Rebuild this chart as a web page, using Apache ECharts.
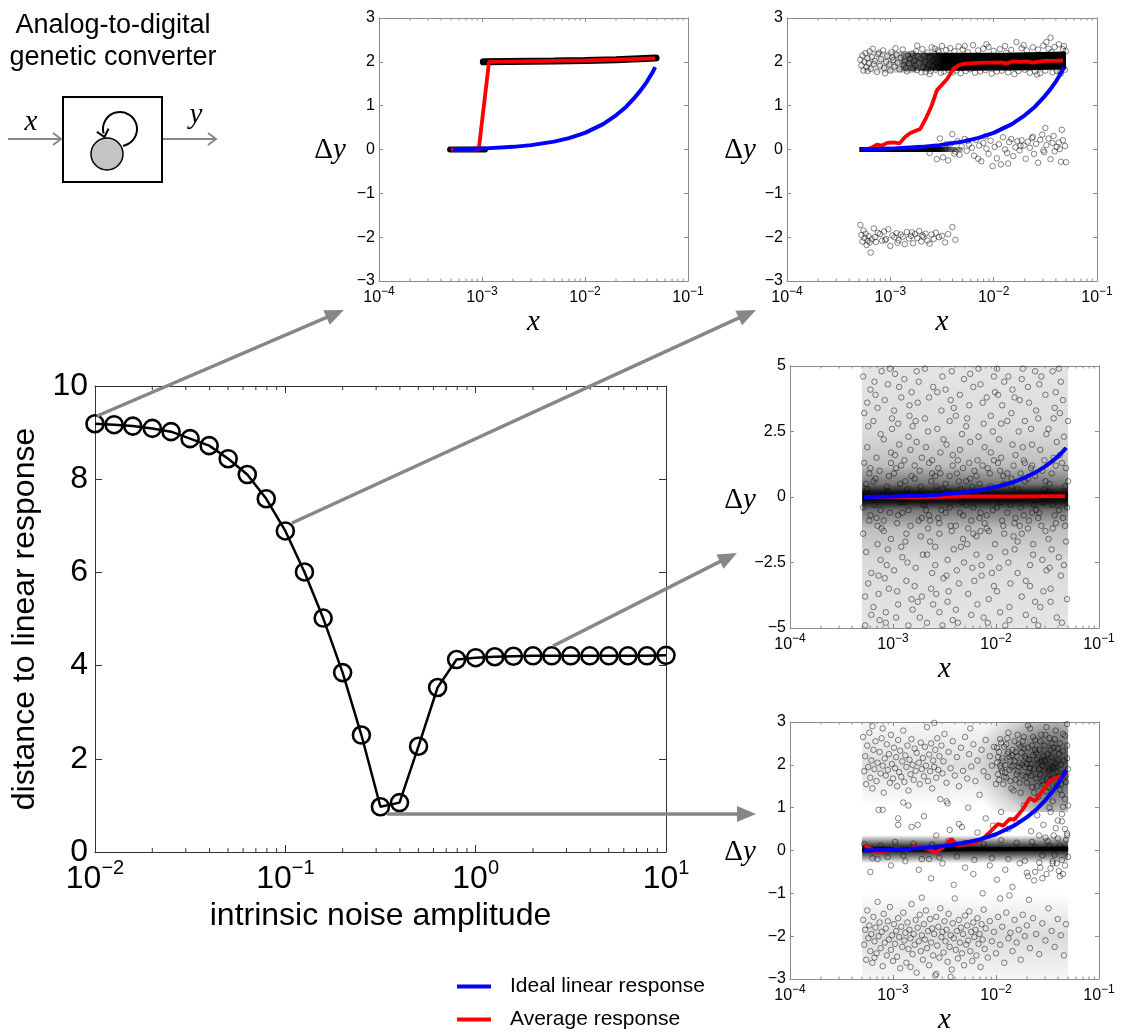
<!DOCTYPE html>
<html><head><meta charset="utf-8">
<script src="https://cdn.jsdelivr.net/npm/echarts@6/dist/echarts.min.js"></script>
<style>html,body{margin:0;padding:0;background:#fff}#c{width:1121px;height:1036px}</style>
</head><body><div id="c"></div>
<script>
// ---------------- DATA ----------------
// main plot: distance to linear response vs intrinsic noise amplitude
const noiseAmplitude = [0.01,0.0126,0.0158,0.02,0.0251,0.0316,0.0398,0.0501,0.0631,0.0794,0.1,0.126,0.158,0.2,0.251,0.316,0.398,0.501,0.631,0.794,1,1.26,1.58,2,2.51,3.16,3.98,5.01,6.31,7.94,10];
const distanceToLinear = [9.19,9.17,9.14,9.09,9.02,8.87,8.72,8.44,8.10,7.58,6.89,6.01,5.02,3.85,2.51,0.97,1.06,2.27,3.53,4.13,4.17,4.19,4.20,4.21,4.21,4.21,4.21,4.21,4.21,4.21,4.22];

// ideal linear response (same in the four panels)
const idealX = [5.2e-4,1e-3,2e-3,3e-3,5e-3,7e-3,1e-2,1.5e-2,2e-2,2.5e-2,3e-2,3.5e-2,4e-2,4.5e-2,4.8e-2];
const idealY = [0.00,0.02,0.06,0.10,0.18,0.26,0.38,0.58,0.78,0.97,1.17,1.36,1.55,1.75,1.88];

// minor tick positions (multiples inside each decade)
const minorMult = [2,3,4,5,6,7,8,9];

// panel A (low noise)
const avgA_x = [5.0e-4,9.3e-4,1.17e-3,5e-3,1e-2,2e-2,4.8e-2];
const avgA_y = [0,0,2.0,2.02,2.03,2.05,2.08];
const simA_lowX = [4.9e-4,1.07e-3];
const simA_lowY = [0,0];
const simA_highX = [1.03e-3,5e-3,1e-2,2e-2,4.9e-2];
const simA_highY = [2.0,2.02,2.03,2.05,2.09];

// panel B (x given as log10 x)
const avgB_lx = [-3.26,-3.18,-3.13,-3.08,-3.03,-2.97,-2.91,-2.86,-2.81,-2.76,-2.71,-2.65,-2.60,-2.55,-2.50,-2.45,-2.39,-2.33,-2.27,-2.2,-2.1,-2.0,-1.93,-1.87,-1.82,-1.75,-1.68,-1.62,-1.55,-1.49,-1.42,-1.33];
const avgB_y = [0.0,0.04,0.11,0.09,0.15,0.16,0.14,0.28,0.37,0.42,0.47,0.74,1.0,1.35,1.48,1.61,1.84,1.93,1.96,1.97,1.98,1.98,1.99,1.96,2.01,2.0,2.01,1.98,2.01,2.02,2.02,2.03];
const denseB_band_lx = [-2.9,-2.6,-2.3,-1.8,-1.3];
const denseB_band_y = [2.0,2.0,2.0,2.01,2.03];
const denseB_zero_lx = [-3.3,-2.3];
const denseB_zero_y = [0,0];
// shaded density regions [lx1, lx2, y1, y2]
const shadeB = [[-3.3,-2.75,1.75,2.25]];
const simB = [
-3.29,2.05,-3.28,1.92,-3.27,2.14,-3.26,1.80,-3.25,2.00,-3.24,2.20,-3.23,1.88,-3.22,2.08,-3.21,1.97,-3.20,2.24,-3.19,1.84,-3.18,2.11,-3.16,1.95,-3.15,2.02,-3.13,1.77,-3.12,2.18,-3.10,1.91,-3.09,2.06,-3.07,2.26,-3.06,1.86,-3.04,2.00,-3.03,2.13,-3.01,1.94,-3.00,1.80,-2.99,2.22,-2.97,2.04,-2.96,1.89,-2.94,2.16,-2.93,1.98,-2.91,1.83,-2.90,2.09,-2.88,2.28,-2.87,1.93,-2.86,2.01,-2.84,1.78,-2.83,2.15,-2.82,1.96,-2.81,2.07,-3.17,2.30,-3.05,1.74,-2.95,2.31,-2.85,1.86,-3.22,1.79,-3.11,2.21,-2.98,2.10,
-2.79,2.19,-2.78,1.85,-2.77,2.03,-2.76,1.91,-2.75,2.24,-2.74,1.81,-2.73,2.12,-2.72,1.97,-2.71,2.07,-2.70,1.76,-2.69,2.29,-2.68,1.88,-2.67,2.15,-2.66,2.00,-2.65,1.84,-2.64,2.21,-2.63,1.93,-2.62,2.10,-2.61,1.79,-2.60,2.33,-2.59,1.90,-2.58,2.05,-2.57,2.18,-2.56,1.82,-2.55,1.99,-2.54,2.26,-2.53,1.87,-2.52,2.13,-2.51,1.75,-2.50,2.36,-2.74,2.37,-2.62,1.72,-2.57,2.30,-2.66,1.77,-2.53,2.22,
-2.48,1.78,-2.46,2.27,-2.44,1.82,-2.42,2.31,-2.40,1.76,-2.38,2.24,-2.36,1.80,-2.34,2.35,-2.32,1.74,-2.30,2.28,-2.27,1.79,-2.25,2.22,-2.23,1.83,-2.20,2.38,-2.18,1.75,-2.15,2.26,-2.13,1.78,-2.10,2.30,-2.08,1.81,-2.05,2.34,-2.02,1.73,-2.00,2.25,-1.97,1.78,-1.94,2.29,-1.92,1.80,-1.89,2.36,-1.86,1.76,-1.83,2.27,-1.80,1.72,-1.78,2.45,-1.76,1.79,-1.73,2.31,-1.70,1.82,-1.68,2.26,-1.65,1.75,-1.62,2.33,-1.60,1.78,-1.57,2.28,-1.55,1.74,-1.52,2.37,-1.50,1.80,-1.47,2.30,-1.45,2.55,-1.43,1.76,-1.41,2.34,-1.39,1.79,-1.37,2.40,-1.35,1.73,-1.33,2.29,-1.31,1.82,-1.30,2.24,-1.32,2.36,-1.36,1.77,-1.44,2.22,-1.58,1.71,-1.71,2.38,-1.88,2.21,-2.07,2.40,-2.28,2.36,-1.49,2.45,
-2.62,-0.08,-2.58,0.06,-2.55,-0.22,-2.52,0.25,-2.49,-0.18,-2.47,0.03,-2.44,-0.25,-2.42,0.13,-2.40,0.35,-2.37,-0.05,-2.35,0.19,-2.33,-0.12,-2.31,0.07,-2.28,0.24,-2.26,-0.03,-2.24,0.11,-2.21,0.04,-2.19,-0.14,-2.17,0.22,-2.14,0.09,-2.12,-0.27,-2.10,0.15,-2.07,0.02,-2.05,-0.10,-2.03,0.20,-2.01,-0.38,-1.99,0.06,-1.97,-0.20,-1.95,0.12,-1.93,-0.34,-1.91,0.28,-1.89,0.00,-1.87,-0.08,-1.85,0.17,-1.83,0.24,-1.81,-0.15,-1.79,0.05,-1.77,0.19,-1.75,-0.02,-1.73,0.21,-1.71,0.09,-1.69,-0.21,-1.67,0.18,-1.65,0.04,-1.63,0.26,-1.61,-0.10,-1.59,0.13,-1.57,-0.30,-1.55,0.22,-1.53,0.34,-1.51,-0.06,-1.49,0.10,-1.47,0.25,-1.45,-0.22,-1.43,0.15,-1.41,-0.04,-1.39,0.06,-1.37,0.16,-1.35,-0.28,-1.33,0.21,-1.31,0.08,-1.30,-0.29,-1.34,0.45,-1.42,0.31,-1.50,0.49,-1.62,0.29,-1.74,0.08,-1.86,-0.32,-2.08,0.30,-2.15,-0.21,-2.25,0.20,-2.38,-0.10,-2.46,0.12,-2.53,0.01,-1.36,0.01,-1.52,-0.02,
-3.29,-1.72,-3.28,-1.95,-3.27,-2.10,-3.26,-1.85,-3.25,-2.02,-3.24,-1.92,-3.23,-2.18,-3.22,-2.08,-3.21,-1.98,-3.20,-2.12,-3.19,-2.35,-3.18,-2.05,-3.16,-1.80,-3.14,-2.11,-3.12,-1.90,-3.10,-1.93,-3.08,-2.08,-3.06,-1.87,-3.04,-2.04,-3.02,-1.82,-3.00,-2.20,-2.98,-1.96,-2.96,-2.00,-2.94,-1.91,-2.92,-2.07,-2.90,-1.94,-2.88,-1.99,-2.86,-2.16,-2.84,-1.88,-2.82,-2.03,-2.80,-1.97,-2.78,-2.14,-2.76,-1.93,-2.74,-2.02,-2.72,-1.86,-2.70,-2.10,-2.68,-1.99,-2.66,-1.92,-2.64,-2.08,-2.62,-2.15,-2.60,-1.94,-2.58,-2.04,-2.56,-1.90,-2.53,-2.00,-2.50,-1.97,-2.47,-2.12,-2.44,-1.93,-2.40,-1.77,-2.37,-2.06,-2.93,-2.13,-3.05,-2.07,-2.79,-1.89,-2.69,-1.96,-3.15,-2.00
];

// panel C
const avgC_lx = [-3.28,-2.8,-2.3,-1.8,-1.33];
const avgC_y = [0,0.0,0.02,0.02,0.03];
const shadeC = [[-3.3,-1.3,-5,5]];
const simC = [
-3.29,4.6,-3.27,-3.8,-3.25,1.9,-3.22,-0.7,-3.28,3.2,-3.21,-4.5,-3.24,2.7,-3.26,-2.1,-3.23,0.9,-3.29,-1.4,-3.22,4.1,-3.27,-4.9,-3.25,3.6,-3.21,-2.9,-3.28,1.3,-3.24,-3.3,-3.26,0.5,-3.23,-0.9,-3.22,1.1,-3.29,-0.4,-3.25,0.3,
-3.19,-4.2,-3.17,3.9,-3.15,-1.8,-3.12,2.4,-3.18,-0.3,-3.11,4.8,-3.14,-3.0,-3.16,1.5,-3.13,-4.7,-3.19,2.9,-3.12,-2.4,-3.17,0.7,-3.15,3.4,-3.11,-1.2,-3.18,4.4,-3.14,-3.7,-3.16,-0.8,-3.13,1.0,-3.12,-0.5,-3.19,0.6,-3.15,-1.1,
-3.09,2.2,-3.07,-4.4,-3.05,4.3,-3.02,-1.6,-3.08,-3.1,-3.01,3.0,-3.04,0.8,-3.06,-2.6,-3.03,4.9,-3.09,-0.9,-3.02,1.7,-3.07,-4.8,-3.05,-2.0,-3.01,2.6,-3.08,3.7,-3.04,-3.5,-3.06,0.4,-3.03,-0.6,-3.02,1.3,-3.09,-1.3,-3.05,0.2,
-2.99,-2.8,-2.97,1.1,-2.95,-4.1,-2.92,3.8,-2.98,4.7,-2.91,-0.6,-2.94,2.0,-2.96,-3.6,-2.93,0.5,-2.99,3.3,-2.92,-1.9,-2.97,-4.6,-2.95,2.8,-2.91,-2.3,-2.98,1.6,-2.94,4.2,-2.96,-1.0,-2.93,-0.2,-2.92,1.2,-2.99,0.9,-2.95,-0.7,
-2.89,4.5,-2.87,-1.4,-2.85,2.3,-2.82,-3.9,-2.88,0.6,-2.81,-4.3,-2.84,3.5,-2.86,-2.5,-2.83,1.8,-2.89,-0.2,-2.82,4.0,-2.87,-3.2,-2.85,-4.9,-2.81,2.7,-2.88,-1.7,-2.84,3.1,-2.86,0.3,-2.83,-1.1,-2.82,0.8,-2.89,1.4,-2.85,-0.5,
-2.79,-3.4,-2.77,4.8,-2.75,-0.9,-2.72,1.5,-2.78,2.9,-2.71,-2.2,-2.74,-4.6,-2.76,3.6,-2.73,-1.5,-2.79,0.7,-2.72,-3.8,-2.77,2.1,-2.75,4.4,-2.71,-0.3,-2.78,-2.7,-2.74,1.0,-2.76,-4.0,-2.73,0.4,-2.72,-0.8,-2.79,1.2,-2.75,0.1,
-2.69,3.0,-2.67,-4.8,-2.65,1.3,-2.62,-2.9,-2.68,-0.5,-2.61,4.2,-2.64,-1.7,-2.66,2.5,-2.63,-3.5,-2.69,4.9,-2.62,0.9,-2.67,-2.2,-2.65,3.8,-2.61,-4.1,-2.68,1.9,-2.64,-0.9,-2.66,-1.2,-2.63,0.6,-2.62,1.4,-2.69,-0.3,-2.65,-0.7,
-2.59,-1.9,-2.57,2.6,-2.55,-4.4,-2.52,4.6,-2.58,0.4,-2.51,-3.1,-2.54,1.7,-2.56,-0.8,-2.53,3.3,-2.59,-2.6,-2.52,-4.9,-2.57,4.0,-2.55,-1.4,-2.51,2.2,-2.58,-3.7,-2.54,0.9,-2.56,1.1,-2.53,-0.5,-2.52,0.3,-2.59,0.8,-2.55,-1.0,
-2.49,4.1,-2.47,-2.4,-2.45,0.8,-2.42,-4.7,-2.48,2.0,-2.41,3.4,-2.44,-1.1,-2.46,-3.6,-2.43,4.8,-2.49,-0.6,-2.42,1.6,-2.47,-4.0,-2.45,2.9,-2.41,-2.0,-2.48,-3.0,-2.44,3.7,-2.46,0.2,-2.43,-1.3,-2.42,1.2,-2.49,0.5,-2.45,-0.4,
-2.39,-4.3,-2.37,1.4,-2.35,3.9,-2.32,-1.6,-2.38,-2.8,-2.31,4.5,-2.34,0.3,-2.36,-3.3,-2.33,2.4,-2.39,3.1,-2.32,-0.7,-2.37,-4.8,-2.35,1.8,-2.31,-2.5,-2.38,0.9,-2.34,-1.9,-2.36,0.6,-2.33,-0.2,-2.32,1.1,-2.39,-1.1,-2.35,-0.6,
-2.29,2.7,-2.27,-3.7,-2.25,4.7,-2.22,-0.4,-2.28,-1.8,-2.21,1.0,-2.24,-4.5,-2.26,3.5,-2.23,-2.7,-2.29,0.6,-2.22,4.2,-2.27,-1.2,-2.25,2.1,-2.21,-3.2,-2.28,3.0,-2.24,-0.9,-2.26,1.3,-2.23,0.4,-2.22,-1.4,-2.29,-0.3,-2.25,0.7,
-2.19,-2.2,-2.17,4.9,-2.15,-0.6,-2.12,2.8,-2.18,-4.1,-2.11,1.9,-2.14,-3.0,-2.16,0.5,-2.13,3.6,-2.19,-1.5,-2.12,-4.6,-2.17,2.3,-2.15,4.3,-2.11,-1.0,-2.18,1.4,-2.14,-2.6,-2.16,-0.8,-2.13,1.2,-2.12,-0.1,-2.19,0.8,-2.15,-1.3,
-2.09,3.8,-2.07,-1.3,-2.05,1.7,-2.02,-3.4,-2.08,-4.8,-2.01,4.0,-2.04,0.2,-2.06,-2.3,-2.03,2.5,-2.09,-0.7,-2.02,4.6,-2.07,-3.9,-2.05,3.1,-2.01,-1.8,-2.08,1.1,-2.04,-2.9,-2.06,0.9,-2.03,-0.5,-2.02,1.4,-2.09,-1.2,-2.05,0.4,
-1.99,-3.6,-1.97,2.2,-1.95,-0.2,-1.92,4.4,-1.98,1.3,-1.91,-2.1,-1.94,3.5,-1.96,-4.4,-1.93,0.8,-1.99,4.9,-1.92,-1.4,-1.97,-2.7,-1.95,2.8,-1.91,-4.9,-1.98,3.9,-1.94,-0.9,-1.96,1.0,-1.93,-1.1,-1.92,0.5,-1.99,-0.4,-1.95,1.5,
-1.89,0.9,-1.87,-4.2,-1.85,3.2,-1.82,-2.0,-1.88,4.6,-1.81,-0.8,-1.84,2.0,-1.86,-3.3,-1.83,-1.5,-1.89,2.9,-1.82,3.8,-1.87,-4.7,-1.85,0.4,-1.81,1.6,-1.88,-2.5,-1.84,4.1,-1.86,-0.3,-1.83,1.2,-1.82,-1.0,-1.89,-0.6,-1.85,0.7,
-1.79,-1.7,-1.77,3.7,-1.75,-3.8,-1.72,0.6,-1.78,2.5,-1.71,-4.5,-1.74,4.9,-1.76,-0.4,-1.73,1.4,-1.79,-2.9,-1.72,2.9,-1.77,-1.1,-1.75,4.5,-1.71,-3.2,-1.78,-0.1,-1.74,1.9,-1.76,0.9,-1.73,-0.7,-1.72,1.3,-1.79,0.3,-1.75,-1.4,
-1.69,4.2,-1.67,-2.6,-1.65,1.2,-1.62,-4.0,-1.68,-0.9,-1.61,3.3,-1.64,-1.8,-1.66,2.6,-1.63,-4.7,-1.69,0.7,-1.62,4.8,-1.67,-3.4,-1.65,2.0,-1.61,-0.5,-1.68,3.6,-1.64,-2.2,-1.66,1.1,-1.63,-0.3,-1.62,0.8,-1.69,-1.2,-1.65,-0.6,
-1.59,-4.9,-1.57,1.8,-1.55,-2.4,-1.52,3.9,-1.58,-0.6,-1.51,2.4,-1.54,-3.6,-1.56,4.6,-1.53,0.3,-1.59,3.0,-1.52,-1.3,-1.57,-4.2,-1.55,1.0,-1.51,-2.8,-1.58,4.3,-1.54,-0.2,-1.56,-1.1,-1.53,1.4,-1.52,0.6,-1.59,-0.8,-1.55,0.1,
-1.49,2.6,-1.47,-3.5,-1.45,4.8,-1.42,-1.0,-1.48,0.5,-1.41,-4.6,-1.44,1.5,-1.46,-2.0,-1.43,3.4,-1.49,-1.6,-1.42,4.0,-1.47,-4.0,-1.45,-0.3,-1.41,2.1,-1.48,-2.7,-1.44,3.0,-1.46,0.9,-1.43,-0.7,-1.42,1.2,-1.49,0.2,-1.45,-1.2,
-1.39,-2.3,-1.37,4.4,-1.35,-0.8,-1.32,1.1,-1.38,3.2,-1.31,-3.9,-1.34,2.3,-1.36,-4.8,-1.33,0.4,-1.39,4.9,-1.32,-1.7,-1.37,-3.0,-1.35,3.7,-1.31,-0.4,-1.38,1.6,-1.34,-2.6,-1.36,1.3,-1.33,-1.1,-1.30,0.6,-1.39,-0.5,-1.30,2.9
];

// panel D
const avgD_lx = [-3.27,-3.22,-3.16,-3.06,-2.96,-2.87,-2.77,-2.67,-2.58,-2.51,-2.43,-2.38,-2.29,-2.19,-2.11,-2.03,-1.98,-1.93,-1.87,-1.82,-1.74,-1.67,-1.62,-1.54,-1.48,-1.41,-1.35,-1.32];
const avgD_y = [0.12,0.04,-0.04,0.0,0.04,0.02,0.08,0.04,-0.04,0.08,0.27,0.12,0.15,0.19,0.31,0.5,0.62,0.58,0.73,0.73,0.96,1.23,1.15,1.42,1.62,1.69,1.73,1.80];
const denseD_zero_lx = [-3.3,-1.3];
const denseD_zero_y = [0.02,0.04];
const shadeD = [[-3.3,-1.3,1.0,3.0],[-3.3,-1.3,-3.0,-1.0],[-2.45,-1.3,0.9,3.0],[-3.3,-1.3,-0.3,0.36]];
const simD = [
-3.29,2.65,-3.28,1.85,-3.27,2.20,-3.26,1.55,-3.25,2.45,-3.24,1.95,-3.23,2.75,-3.22,1.70,-3.21,2.10,-3.20,1.45,-3.19,2.35,-3.18,1.90,-3.17,2.55,-3.16,1.62,-3.15,2.05,-3.14,0.95,-3.13,2.30,-3.12,1.80,-3.11,2.62,-3.10,1.98,-3.09,1.35,-3.08,2.15,-3.07,1.75,-3.06,2.48,-3.05,1.88,-3.04,2.25,-3.03,1.58,-3.02,2.70,-3.01,2.02,-3.00,1.68,-2.99,2.40,-2.98,1.92,-2.97,2.18,-2.96,1.50,-2.95,2.58,-2.94,1.83,-2.93,2.33,-2.92,1.72,-2.91,2.08,-2.90,2.80,-2.89,1.60,-2.88,2.22,-2.87,1.95,-2.86,2.45,-2.85,1.40,-2.84,2.12,-2.83,1.78,-2.82,2.60,-2.81,2.00,-2.80,1.65,-2.79,2.38,-2.78,1.86,-2.77,2.28,-2.76,0.60,-2.75,2.05,-2.74,1.55,-2.73,2.52,-2.72,1.90,-2.71,2.16,-2.70,1.73,-2.69,2.42,-2.68,1.98,-2.67,2.88,-2.66,1.62,-2.65,2.24,-2.64,1.85,-2.63,2.50,-2.62,1.45,-2.61,2.10,-2.60,1.95,-2.59,2.35,-2.58,1.70,-2.57,2.62,-2.56,1.88,-2.55,2.20,-2.54,1.20,-2.53,2.45,-2.52,1.80,-2.51,2.08,-2.50,2.72,-2.48,1.58,-2.46,2.30,-2.44,1.92,-2.42,2.55,-2.40,1.75,-2.38,2.18,-2.36,1.50,-2.34,2.40,-2.32,1.86,-2.30,2.65,-2.28,1.68,-2.26,2.25,-2.24,1.96,-2.22,2.48,-2.20,1.62,-2.18,2.10,-2.16,1.30,-2.14,2.35,-2.12,1.85,-2.10,2.58,-2.08,1.72,-2.06,2.20,-2.04,1.98,-2.02,2.42,-2.00,1.55,-3.20,2.90,-2.95,0.75,-2.47,1.10,-2.33,0.55,-2.85,1.05,-3.10,2.85,-2.60,2.98,-2.25,2.85,
-1.99,2.05,-1.98,1.78,-1.97,2.30,-1.96,2.60,-1.95,1.92,-1.94,2.15,-1.93,1.55,-1.92,2.42,-1.91,2.00,-1.90,1.70,-1.89,2.25,-1.88,2.75,-1.87,1.88,-1.86,2.10,-1.85,1.45,-1.84,2.35,-1.83,1.98,-1.82,2.55,-1.81,1.65,-1.80,2.20,-1.79,1.85,-1.78,2.48,-1.77,2.05,-1.76,1.35,-1.75,2.28,-1.74,1.75,-1.73,2.65,-1.72,1.95,-1.71,2.15,-1.70,1.58,-1.69,2.40,-1.68,1.82,-1.67,2.85,-1.66,2.02,-1.65,1.48,-1.64,2.22,-1.63,1.90,-1.62,2.58,-1.61,1.68,-1.60,2.12,-1.59,1.25,-1.58,2.35,-1.57,1.78,-1.56,2.70,-1.55,1.98,-1.54,1.55,-1.53,2.45,-1.52,2.08,-1.51,1.38,-1.50,2.25,-1.49,1.85,-1.48,2.62,-1.47,1.65,-1.46,2.18,-1.45,1.15,-1.44,2.40,-1.43,1.92,-1.42,2.80,-1.41,1.52,-1.40,2.10,-1.39,1.72,-1.38,2.50,-1.37,2.00,-1.36,1.30,-1.35,2.32,-1.34,1.80,-1.33,2.68,-1.32,1.60,-1.31,2.15,-1.30,1.90,
-1.99,2.40,-1.97,1.65,-1.95,2.52,-1.93,2.08,-1.91,1.82,-1.89,2.62,-1.87,2.18,-1.85,1.95,-1.83,1.40,-1.81,2.30,-1.79,2.70,-1.77,1.58,-1.75,2.00,-1.73,2.38,-1.71,1.72,-1.69,2.92,-1.67,1.92,-1.65,2.45,-1.63,1.35,-1.61,2.28,-1.59,2.05,-1.57,2.55,-1.55,1.62,-1.53,2.12,-1.51,2.88,-1.49,1.48,-1.47,2.35,-1.45,1.95,-1.43,2.60,-1.41,1.85,-1.39,2.25,-1.37,1.55,-1.35,2.72,-1.33,1.20,-1.31,2.45,-1.30,1.05,
-1.98,2.18,-1.94,1.85,-1.90,2.48,-1.86,1.62,-1.82,2.08,-1.78,1.95,-1.74,2.55,-1.70,2.02,-1.66,1.75,-1.62,2.35,-1.58,1.90,-1.54,2.20,-1.50,1.68,-1.46,2.50,-1.42,2.05,-1.38,1.42,-1.34,2.10,-1.31,2.95,-1.96,1.98,-1.88,2.30,-1.80,1.78,-1.72,2.20,-1.64,2.65,-1.56,2.08,-1.48,1.90,-1.40,2.38,-1.32,1.75,-1.44,1.70,-1.52,2.70,-1.60,1.50,-1.68,2.12,-1.76,2.42,-1.84,2.22,-1.92,1.72,-1.36,0.85,-1.33,0.50,-1.40,0.70,-1.31,0.35,-1.47,0.90,-1.35,1.02,
-3.29,-1.62,-3.28,-2.20,-3.27,-1.85,-3.26,-2.55,-3.25,-1.40,-3.24,-2.05,-3.23,-1.75,-3.22,-2.35,-3.21,-1.95,-3.20,-2.62,-3.19,-1.55,-3.18,-2.12,-3.17,-1.80,-3.16,-2.40,-3.15,-1.20,-3.14,-2.00,-3.13,-1.68,-3.12,-2.28,-3.11,-1.90,-3.10,-2.70,-3.09,-1.48,-3.08,-2.15,-3.07,-1.82,-3.06,-2.45,-3.05,-1.65,-3.04,-2.08,-3.03,-1.32,-3.02,-2.32,-3.01,-1.98,-3.00,-2.58,-2.99,-1.72,-2.98,-2.18,-2.97,-1.88,-2.96,-2.48,-2.95,-1.58,-2.94,-2.02,-2.93,-2.75,-2.92,-1.78,-2.91,-2.25,-2.90,-1.45,-2.89,-2.10,-2.88,-1.92,-2.87,-2.62,-2.86,-1.68,-2.85,-2.30,-2.84,-1.85,-2.83,-2.05,-2.82,-1.25,-2.81,-2.42,-2.80,-1.95,-2.79,-2.20,-2.78,-1.62,-2.77,-2.85,-2.76,-1.80,-2.75,-2.12,-2.74,-1.50,-2.73,-2.35,-2.72,-1.98,-2.71,-2.55,-2.70,-1.72,-2.69,-2.08,-2.68,-1.40,-2.67,-2.28,-2.66,-1.88,-2.65,-2.68,-2.64,-1.60,-2.63,-2.15,-2.62,-1.82,-2.61,-2.45,-2.60,-1.95,-2.59,-2.92,-2.58,-1.55,-2.57,-2.22,-2.56,-1.78,-2.55,-2.50,-2.54,-1.35,-2.53,-2.02,-2.52,-1.90,-2.51,-2.38,-2.50,-1.65,-2.49,-2.12,-2.48,-1.85,-2.47,-2.60,-2.46,-1.48,-2.45,-2.25,-2.44,-1.98,-2.43,-2.78,-2.42,-1.70,-2.41,-2.05,-2.40,-1.12,-2.39,-2.32,-2.38,-1.88,-2.37,-2.52,-2.36,-1.62,-2.35,-2.15,-2.34,-1.80,-2.33,-2.40,-2.32,-1.95,-2.31,-2.68,-2.30,-1.52,-2.29,-2.20,-2.28,-1.75,-2.27,-2.10,-2.26,-1.42,-2.25,-2.35,-2.24,-1.90,-2.23,-2.58,-2.22,-1.68,-2.21,-2.02,-2.20,-1.85,-2.19,-2.45,-2.18,-1.58,-2.17,-2.18,-2.16,-1.95,-2.15,-2.72,-2.14,-1.72,-2.13,-2.08,-2.12,-1.38,-2.11,-2.30,-2.10,-1.82,-2.08,-2.50,-2.06,-1.65,-2.04,-2.12,-2.02,-1.90,-2.00,-2.40,-1.98,-1.55,-1.96,-2.20,-1.94,-1.78,-1.92,-2.62,-1.90,-1.45,-1.88,-2.05,-1.86,-1.92,-1.84,-2.35,-1.82,-1.62,-1.80,-2.15,-1.78,-1.85,-1.76,-2.55,-1.74,-1.50,-1.72,-2.00,-1.70,-1.75,-1.67,-2.28,-1.64,-1.58,-1.61,-1.95,-1.58,-2.42,-1.55,-1.70,-1.52,-2.10,-1.49,-1.35,-1.46,-1.88,-1.43,-2.25,-1.40,-1.60,-1.37,-1.98,-1.34,-2.45,-1.32,-1.72,-2.58,-2.88,-2.44,-2.95,-2.83,-2.72,-3.18,-2.50,-2.72,-1.10,-1.96,-1.12,-1.68,-1.15,-1.87,-1.05,
-3.22,-0.50,-3.10,0.95,-3.02,-0.35,-2.95,0.60,-2.88,-0.25,-2.82,0.55,-2.75,-0.45,-2.70,0.80,-2.63,-0.65,-2.58,0.35,-2.52,-0.30,-2.45,0.48,-2.41,-0.80,-2.36,0.62,-2.30,-0.40,-2.27,1.00,-2.22,-0.55,-2.18,0.42,-2.13,-1.00,-2.10,0.75,-2.06,-0.35,-2.03,0.58,-1.99,-0.68,-1.95,0.90,-1.91,-0.45,-1.88,0.50,-1.84,-0.85,-1.80,0.65,-1.77,-0.30,-1.73,1.05,-1.70,-0.52,-1.66,0.45,-1.63,-0.70,-1.60,0.82,-1.57,-0.40,-1.54,0.60,-1.51,-0.55,-1.48,1.00,-1.45,-0.25,-1.42,0.52,-1.39,-0.48,-1.36,0.68,-1.33,-0.35,-1.31,0.40,-1.55,-0.65,-1.47,-0.42,-1.62,-0.50,-1.69,-0.60,-1.38,-0.60,-1.44,0.35,-1.52,0.30,-1.58,0.35,-1.35,-0.55,-1.41,-0.30,-2.48,1.15,-2.90,1.12,-3.15,-0.20,-2.65,-0.20,
-3.28,0.15,-3.20,-0.18,-3.12,0.12,-3.05,-0.15,-2.98,0.20,-2.90,-0.12,-2.80,0.16,-2.72,-0.20,-2.62,0.14,-2.55,-0.16,-2.46,0.22,-2.38,-0.14,-2.30,0.18,-2.21,-0.22,-2.12,0.15,-2.04,-0.18,-1.95,0.24,-1.88,-0.20,-1.80,0.18,-1.72,-0.24,-1.65,0.20,-1.58,-0.28,-1.50,0.22,-1.45,-0.30,-1.40,0.28,-1.36,-0.22,-1.32,0.25,-1.30,-0.15,-1.48,0.10,-1.55,-0.12,-1.62,0.08,-1.38,0.12,-1.43,-0.10,-1.34,0.05
];

// ---------------- HELPERS ----------------
const SANS = 'Liberation Sans', SERIF = 'Liberation Serif';
const zip = (xs, ys) => xs.map((x, i) => [x, ys[i]]);
const zipLog = (lxs, ys) => lxs.map((lx, i) => [Math.pow(10, lx), ys[i]]);
const flatLog = (flat) => { const o = []; for (let i = 0; i < flat.length; i += 2) o.push([Math.pow(10, flat[i]), flat[i + 1]]); return o; };
const minus = s => String(s).replace('-', '\u2212');
const expOf = v => Math.round(Math.log10(v));
const k = a => 'rgba(0,0,0,' + a + ')';
const stops = arr => arr.map(s => ({offset: s[0], color: k(s[1])}));
const linV = arr => ({type: 'linear', x: 0, y: 0, x2: 0, y2: 1, colorStops: stops(arr)});
const linH = arr => ({type: 'linear', x: 0, y: 0, x2: 1, y2: 0, colorStops: stops(arr)});
const rad = (cx, cy, r, arr) => ({type: 'radial', x: cx, y: cy, r: r, colorStops: stops(arr)});

const grids = [
  {left: 95, top: 386, width: 571, height: 466},
  {left: 379, top: 18, width: 309, height: 263},
  {left: 787, top: 18, width: 310, height: 263},
  {left: 790, top: 366, width: 309, height: 262},
  {left: 790, top: 722, width: 309, height: 261}
];
const gridExt = [];

function axisStyle(big) {
  const c = big ? '#333' : '#8c8c8c';
  return {
    axisLine: {onZero: false, lineStyle: {color: c, width: 1}},
    axisTick: {inside: true, length: big ? 7 : 4, lineStyle: {color: c, width: 1}},
    splitLine: {show: false}
  };
}
const xAxes = [], yAxes = [];
function addAxes(g, xmin, xmax, ymin, ymax, yint, big, xName) {
  gridExt[g] = [xmin, xmax, ymin, ymax];
  const st = axisStyle(big);
  const rich = big
    ? {b: {fontSize: 32, fontFamily: SANS, color: '#000'}, s: {fontSize: 20, fontFamily: SANS, color: '#000', padding: [0, 0, 22, 0]}}
    : {b: {fontSize: 16, fontFamily: SANS, color: '#000'}, s: {fontSize: 12, fontFamily: SANS, color: '#000', padding: [0, 0, 12, 0]}};
  xAxes.push(Object.assign({
    type: 'log', logBase: 10, gridIndex: g, min: xmin, max: xmax, position: 'bottom',
    axisLabel: {margin: big ? 6 : 5, formatter: v => '{b|10}{s|' + minus(expOf(v)) + '}', rich: rich},
    name: xName, nameLocation: 'middle', nameGap: big ? 48 : 27,
    nameTextStyle: big ? {fontFamily: SANS, fontSize: 32, color: '#000'}
                       : {fontFamily: SERIF, fontStyle: 'italic', fontSize: 29, color: '#000'}
  }, st));
  xAxes.push(Object.assign({type: 'log', logBase: 10, gridIndex: g, min: xmin, max: xmax, position: 'top', axisLabel: {show: false}}, axisStyle(big)));
  yAxes.push(Object.assign({
    type: 'value', gridIndex: g, min: ymin, max: ymax, interval: yint, position: 'left',
    axisLabel: {margin: big ? 7 : 4, color: '#000', fontFamily: SANS, fontSize: big ? 32 : 16, formatter: v => minus(v)}
  }, st, big ? {name: 'distance to linear response', nameLocation: 'middle', nameGap: 43,
      nameTextStyle: {fontFamily: SANS, fontSize: 32, color: '#000'}} : {}));
  yAxes.push(Object.assign({type: 'value', gridIndex: g, min: ymin, max: ymax, interval: yint, position: 'right', axisLabel: {show: false}}, axisStyle(big)));
}
addAxes(0, 0.01, 10, 0, 10, 2, true, 'intrinsic noise amplitude');
addAxes(1, 1e-4, 1e-1, -3, 3, 1, false, 'x');
addAxes(2, 1e-4, 1e-1, -3, 3, 1, false, 'x');
addAxes(3, 1e-4, 1e-1, -5, 5, 2.5, false, 'x');
addAxes(4, 1e-4, 1e-1, -3, 3, 1, false, 'x');

const series = [];
const BLUE = '#0000ff', RED = '#ff0000';

function minorTicks(g, big) {
  const ext = gridExt[g];
  const data = [];
  for (let d = ext[0]; d < ext[1] * 0.999; d *= 10) minorMult.forEach(m => data.push([d * m, ext[2]]));
  const len = big ? 4 : 2.5, col = big ? '#333' : '#8c8c8c';
  series.push({type: 'custom', xAxisIndex: 2 * g, yAxisIndex: 2 * g, silent: true, clip: false, z: 1, data: data,
    renderItem: (p, api) => {
      const b = api.coord([api.value(0), ext[2]]), t = api.coord([api.value(0), ext[3]]);
      return {type: 'group', children: [
        {type: 'line', shape: {x1: b[0], y1: b[1], x2: b[0], y2: b[1] - len}, style: {stroke: col, lineWidth: 1}},
        {type: 'line', shape: {x1: t[0], y1: t[1], x2: t[0], y2: t[1] + len}, style: {stroke: col, lineWidth: 1}}
      ]};
    }});
}
function shades(regions, colors) {
  return {silent: true, data: regions.map((r, i) => [
    {coord: [Math.pow(10, r[0]), r[2]], itemStyle: {color: colors[i]}},
    {coord: [Math.pow(10, r[1]), r[3]]}])};
}
function scatter(g, data, markArea) {
  const s = {type: 'scatter', xAxisIndex: 2 * g, yAxisIndex: 2 * g, data: data, symbol: 'circle', symbolSize: 5.5, silent: true, z: 2,
    itemStyle: {color: 'rgba(0,0,0,0)', borderColor: 'rgba(0,0,0,0.75)', borderWidth: 0.8}};
  if (markArea) s.markArea = markArea;
  series.push(s);
}
function dense(g, data, w, color, cap) {
  series.push({type: 'line', xAxisIndex: 2 * g, yAxisIndex: 2 * g, data: data, symbol: 'none', silent: true, z: 2,
    lineStyle: {color: color, width: w, cap: cap || 'butt'}});
}
function avgLine(g, data) {
  series.push({type: 'line', name: 'Average response', color: RED, xAxisIndex: 2 * g, yAxisIndex: 2 * g, data: data, symbol: 'none', z: 3,
    lineStyle: {color: RED, width: 3.8}});
}
function idealLine(g) {
  series.push({type: 'line', name: 'Ideal linear response', color: BLUE, xAxisIndex: 2 * g, yAxisIndex: 2 * g, data: zip(idealX, idealY), symbol: 'none', z: 4,
    lineStyle: {color: BLUE, width: 4}});
}

minorTicks(0, true);
for (let g = 1; g <= 4; g++) minorTicks(g, false);

// main
series.push({type: 'line', xAxisIndex: 0, yAxisIndex: 0, data: zip(noiseAmplitude, distanceToLinear), symbol: 'circle', symbolSize: 17, z: 3,
  lineStyle: {color: '#000', width: 2.5}, itemStyle: {color: 'rgba(0,0,0,0)', borderColor: '#000', borderWidth: 2.6}});
// A
dense(1, zip(simA_lowX, simA_lowY), 6, '#000', 'round');
dense(1, zip(simA_highX, simA_highY), 7, '#000', 'round');
avgLine(1, zip(avgA_x, avgA_y));
idealLine(1);
// B
scatter(2, flatLog(simB), shades(shadeB, [linH([[0, 0.04], [1, 0.3]])]));
dense(2, zipLog(denseB_band_lx, denseB_band_y), 18, linH([[0, 0.15], [0.2, 0.8], [0.28, 1], [1, 1]]));
dense(2, zipLog(denseB_zero_lx, denseB_zero_y), 5, linH([[0, 1], [0.75, 1], [1, 0.25]]));
avgLine(2, zipLog(avgB_lx, avgB_y));
idealLine(2);
// C
scatter(3, flatLog(simC), shades(shadeC, [linV([[0, 0.1], [0.25, 0.14], [0.38, 0.26], [0.45, 0.55], [0.48, 0.92], [0.5, 1], [0.52, 0.92], [0.55, 0.55], [0.62, 0.26], [0.75, 0.14], [1, 0.1]])]));
avgLine(3, zipLog(avgC_lx, avgC_y));
idealLine(3);
// D
scatter(4, flatLog(simD), shades(shadeD, [
  linV([[0, 0.03], [0.5, 0.13], [1, 0]]),
  linV([[0, 0], [0.5, 0.14], [1, 0.03]]),
  rad(0.85, 0.5, 0.85, [[0, 0.8], [0.35, 0.5], [0.7, 0.15], [1, 0]]),
  linV([[0, 0], [0.3, 0.6], [0.5, 1], [0.7, 0.6], [1, 0]])
]));
dense(4, zipLog(denseD_zero_lx, denseD_zero_y), 4, '#000');
avgLine(4, zipLog(avgD_lx, avgD_y));
idealLine(4);

// ---------------- ANNOTATIONS ----------------
const GRAY = '#878787';
function arrow(x1, y1, x2, y2) {
  const dx = x2 - x1, dy = y2 - y1, L = Math.hypot(dx, dy), ux = dx / L, uy = dy / L;
  const hl = 19, hw = 8, bx = x2 - ux * hl, by = y2 - uy * hl;
  return [
    {type: 'line', shape: {x1: x1, y1: y1, x2: bx + ux * 2, y2: by + uy * 2}, style: {stroke: GRAY, lineWidth: 3.5}, z: 10},
    {type: 'polygon', shape: {points: [[x2, y2], [bx - uy * hw, by + ux * hw], [bx + uy * hw, by - ux * hw]]}, style: {fill: GRAY}, z: 10}
  ];
}
const dyText = (x, y) => ({type: 'text', x: x, y: y, z: 10, style: {text: '{a|\u0394}{b|y}', align: 'center', verticalAlign: 'middle',
  rich: {a: {fontFamily: SERIF, fontSize: 29, fill: '#000'}, b: {fontFamily: SERIF, fontStyle: 'italic', fontSize: 29, fill: '#000'}}}});
const d2r = a => a * Math.PI / 180;
const graphic = [].concat(
  arrow(97, 416, 344, 310),
  arrow(292, 523, 756, 310),
  arrow(553, 646, 737, 553),
  arrow(387, 814, 756, 814),
  [
    dyText(330, 150), dyText(740, 150), dyText(740, 500), dyText(740, 852),
    {type: 'text', x: 113, y: 26, style: {text: 'Analog-to-digital', fontFamily: SANS, fontSize: 27, fill: '#000', align: 'center', verticalAlign: 'middle'}},
    {type: 'text', x: 113, y: 58, style: {text: 'genetic converter', fontFamily: SANS, fontSize: 27, fill: '#000', align: 'center', verticalAlign: 'middle'}},
    {type: 'rect', shape: {x: 63, y: 97, width: 99, height: 85}, style: {fill: 'none', stroke: '#000', lineWidth: 2}},
    {type: 'circle', shape: {cx: 107, cy: 154, r: 16}, style: {fill: '#c4c4c4', stroke: '#000', lineWidth: 1.5}},
    {type: 'arc', shape: {cx: 120, cy: 129, r: 17, startAngle: d2r(165), endAngle: d2r(440), clockwise: true}, style: {stroke: '#000', lineWidth: 2, fill: null}},
    {type: 'polyline', shape: {points: [[108.5, 128.6], [104.5, 137], [96.9, 131.8]]}, style: {stroke: '#000', lineWidth: 2, fill: null}},
    {type: 'line', shape: {x1: 8, y1: 139, x2: 61, y2: 139}, style: {stroke: GRAY, lineWidth: 2}},
    {type: 'polyline', shape: {points: [[53, 133], [61, 139], [53, 145]]}, style: {stroke: GRAY, lineWidth: 2, fill: null}},
    {type: 'line', shape: {x1: 163, y1: 139, x2: 216, y2: 139}, style: {stroke: GRAY, lineWidth: 2}},
    {type: 'polyline', shape: {points: [[208, 133], [216, 139], [208, 145]]}, style: {stroke: GRAY, lineWidth: 2, fill: null}},
    {type: 'text', x: 31, y: 122, style: {text: 'x', fontFamily: SERIF, fontStyle: 'italic', fontSize: 29, fill: '#000', align: 'center', verticalAlign: 'middle'}},
    {type: 'text', x: 196, y: 115, style: {text: 'y', fontFamily: SERIF, fontStyle: 'italic', fontSize: 29, fill: '#000', align: 'center', verticalAlign: 'middle'}}
  ]
);

const chart = echarts.init(document.getElementById('c'), null, {renderer: 'canvas'});
chart.setOption({
  animation: false,
  backgroundColor: '#fff',
  grid: grids,
  xAxis: xAxes,
  yAxis: yAxes,
  legend: {
    show: true, left: 452, top: 971, orient: 'vertical', icon: 'rect', itemWidth: 34, itemHeight: 4, itemGap: 12,
    selectedMode: false, textStyle: {fontFamily: SANS, fontSize: 21, color: '#000', padding: [0, 0, 0, 14]},
    data: ['Ideal linear response', 'Average response']
  },
  series: series,
  graphic: graphic
});
</script></body></html>
